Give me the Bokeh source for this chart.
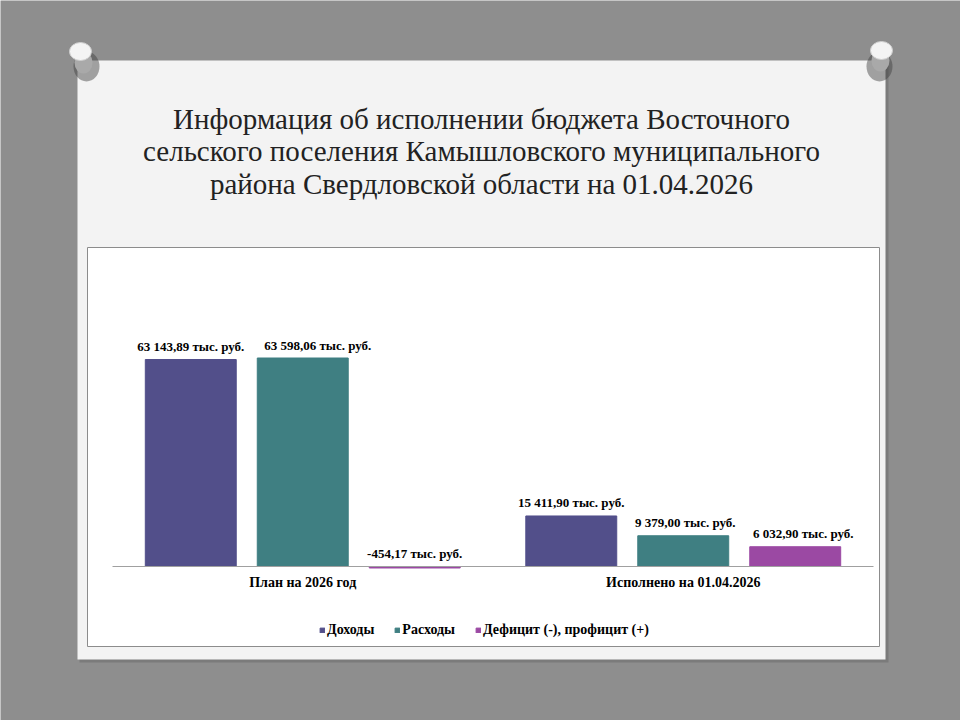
from bokeh.plotting import figure
from bokeh.models import ColumnDataSource, Range1d, Legend, LegendItem
from bokeh.transform import dodge
from bokeh.core.properties import value
from bokeh.embed import file_html
from bokeh.resources import INLINE

# ---------------- data ----------------
categories = ["План на 2026 год", "Исполнено на 01.04.2026"]
series_names = ["Доходы", "Расходы", "Дефицит (-), профицит (+)"]
income = [63143.89, 15411.90]
expense = [63598.06, 9379.00]
balance = [-454.17, 6032.90]
unit = "тыс. руб."

title_lines = [
    "Информация об исполнении бюджета Восточного",
    "сельского поселения Камышловского муниципального",
    "района Свердловской области на 01.04.2026",
]

# ---------------- styles / layout ----------------
colors = ["#524f8a", "#3f7f82", "#9b49a3"]
label_nudge = [[0, 0], [15, 2], [0, 8]]   # small pixel nudges of the value labels
W, H = 960, 720
BG = "#8e8e8e"
CARD = "#f3f3f3"
SERIF = "Liberation Serif"

# page pixel -> data helpers (layout only; bars use the scales directly)
PX_PER_UNIT = 207 / 63143.89        # vertical scale of the chart
BASE_Y = 566                        # page y of the zero line
CAT_PX = 380.5                      # width of one category in px
CAT_X0 = 112                        # page x where the first category starts


def dy(Y):
    return (BASE_Y - Y) / PX_PER_UNIT


def dx(X):
    return (X - CAT_X0) / CAT_PX


def fmt(v):
    s = f"{v:,.2f}".replace(",", " ").replace(".", ",")
    return f"{s} {unit}"


p = figure(width=W, height=H, output_backend="svg", toolbar_location=None,
           x_range=Range1d(dx(0), dx(W)), y_range=Range1d(dy(H), dy(0)),
           min_border=0)
p.background_fill_color = BG
p.border_fill_color = BG
p.outline_line_color = None
p.grid.visible = False
p.axis.visible = False

# card shadow, card, chart box
p.quad(left=dx(79), right=dx(888), top=dy(62), bottom=dy(662),
       fill_color="#5e5e5e", fill_alpha=0.4, line_alpha=0)
p.quad(left=dx(77), right=dx(885), top=dy(60), bottom=dy(659),
       fill_color=CARD, line_alpha=0)
p.quad(left=dx(87), right=dx(879), top=dy(247), bottom=dy(646),
       fill_color="white", line_color="#8c8c8c", line_width=1)

# pins
p.ellipse(x=[dx(86), dx(879)], y=[dy(66), dy(66)], width=26, height=30,
          width_units="screen", height_units="screen",
          fill_color="#3c3c3c", fill_alpha=0.45, line_alpha=0)
p.ellipse(x=[dx(83), dx(880)], y=[dy(62), dy(60)], width=18, height=22,
          width_units="screen", height_units="screen",
          fill_color="#a9a9a9", line_alpha=0)
p.ellipse(x=[dx(80), dx(881)], y=[dy(51), dy(50)], width=22, height=18,
          width_units="screen", height_units="screen",
          fill_color="#f4f4f4", line_color="#cfcfcf", line_width=1)

# title
p.text(x=[dx(481)] * 3, y=[dy(118), dy(150.5), dy(183)], text=title_lines,
       text_align="center", text_baseline="middle",
       text_font=value(SERIF), text_font_size="29px", text_color="#222222")

# category positions on the x scale (centre of each category slot)
cat_x = [i + 0.5 for i in range(len(categories))]

# bars + value labels
offsets = [-0.2943, 0.0, 0.2943]
bar_w = 0.239
values = [income, expense, balance]
items = []
for i, (name, vals, col, off) in enumerate(zip(series_names, values, colors, offsets)):
    src = ColumnDataSource(dict(
        cx=cat_x,
        v=vals,
        ly=[max(v, 0) for v in vals],
        txt=[fmt(v) for v in vals],
        dx=label_nudge[i],
    ))
    r = p.vbar(x=dodge("cx", off), top="v", bottom=0, width=bar_w,
               source=src, fill_color=col, line_color=col)
    p.text(x=dodge("cx", off), y="ly", text="txt", source=src,
           x_offset="dx", y_offset=-13, text_align="center", text_baseline="middle",
           text_font=value(SERIF), text_font_style="bold", text_font_size="13px",
           text_color="black")
    items.append(LegendItem(label=name, renderers=[r]))

# zero line across the two categories
p.segment(x0=[0], x1=[len(categories)], y0=[0], y1=[0], line_color="#a0a0a0", line_width=1)

# category labels under the zero line
p.text(x=cat_x, y=[0] * len(categories), text=categories, y_offset=16,
       text_align="center", text_baseline="middle",
       text_font=value(SERIF), text_font_style="bold", text_font_size="14px",
       text_color="black")

legend = Legend(items=items, orientation="horizontal", location=(319, 720 - 638),
                glyph_width=6, glyph_height=6, label_standoff=2, spacing=20,
                padding=0, margin=0, border_line_color=None,
                background_fill_alpha=0,
                label_text_font=SERIF, label_text_font_style="bold",
                label_text_font_size="14px", label_text_color="black")
p.add_layout(legend)

open("out.html", "w").write(file_html(p, INLINE))
